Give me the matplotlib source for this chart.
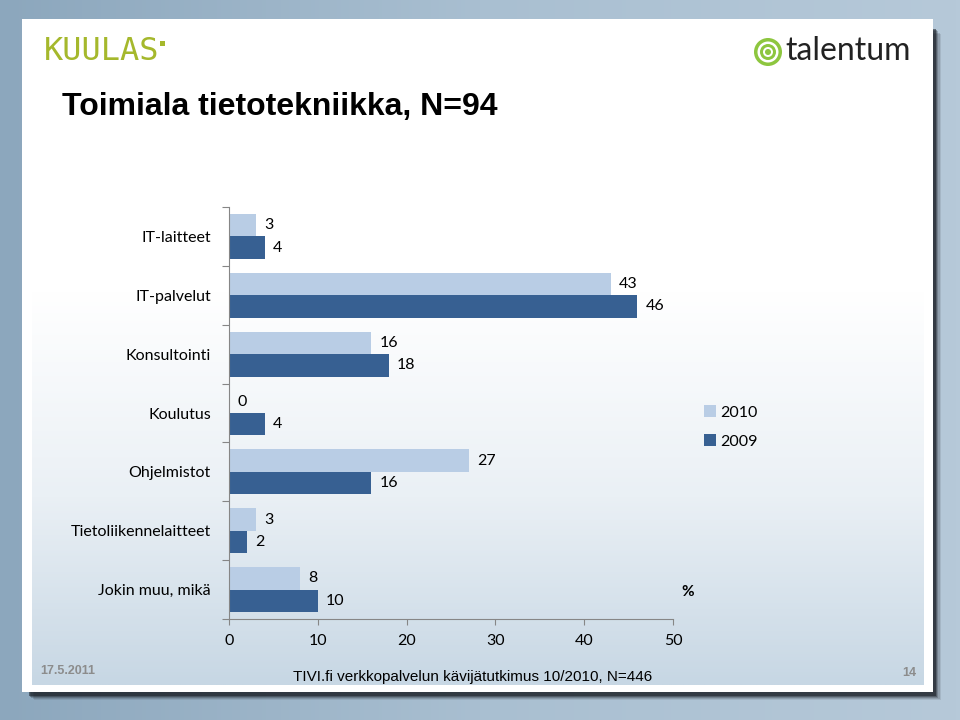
import numpy as np
import matplotlib.pyplot as plt
from matplotlib.patches import Rectangle, Circle
from matplotlib.colors import LinearSegmentedColormap

# data
categories = ['IT-laitteet', 'IT-palvelut', 'Konsultointi', 'Koulutus',
              'Ohjelmistot', 'Tietoliikennelaitteet', 'Jokin muu, mikä']
vals_2010 = [3, 43, 16, 0, 27, 3, 8]
vals_2009 = [4, 46, 18, 4, 16, 2, 10]
series_names = ['2010', '2009']
x_ticks = [0, 10, 20, 30, 40, 50]

c_2010 = '#b9cde5'
c_2009 = '#376092'
chart_font = ['Lato', 'DejaVu Sans']
narrow_font = ['Liberation Sans Narrow', 'Liberation Sans', 'DejaVu Sans']

fig = plt.figure(figsize=(9.6, 7.2), dpi=100)

# ---- slide background (pixel coords) ----
bg = fig.add_axes([0, 0, 1, 1])
bg.set_xlim(0, 960)
bg.set_ylim(720, 0)
bg.axis('off')

outer = LinearSegmentedColormap.from_list('outer', ['#8ca7bd', '#a9bfd1', '#b6c9d9'])
grad_h = np.tile(np.linspace(0, 1, 256), (16, 1))
bg.imshow(grad_h, cmap=outer, extent=(0, 960, 720, 0), aspect='auto', zorder=0)

# shadow of the slide
for k, a in enumerate([0.10, 0.15, 0.22, 0.35, 0.55]):
    off = 8 - k * 1.3
    bg.add_patch(Rectangle((26 + off, 26 + off), 907, 668 - off * 0.3,
                           facecolor='#1a1f26', alpha=a, lw=0, zorder=1))

bg.add_patch(Rectangle((22, 19), 911, 673, facecolor='white', lw=0, zorder=2))

inner = LinearSegmentedColormap.from_list('inner', ['#ffffff', '#ffffff', '#eaf0f5', '#c7d7e4'])
grad_v = np.tile(np.linspace(0, 1, 256)[:, None] ** 1.2, (1, 16))
bg.imshow(grad_v, cmap=inner, extent=(32, 924, 685, 29), aspect='auto', zorder=3)
bg.set_xlim(0, 960)
bg.set_ylim(720, 0)

# KUULAS logo
bg.text(44, 52, 'KUULAS', fontsize=23, family='DejaVu Sans Mono', color='#a5b82c',
        va='center', ha='left', zorder=5)
bg.add_patch(Rectangle((160, 41), 5, 5, facecolor='#a5b82c', lw=0, zorder=5))

# talentum logo
for r, col in [(14, '#8dc63f'), (10.5, 'white'), (8, '#8dc63f'), (5, 'white'), (3, '#8dc63f')]:
    bg.add_patch(Circle((768, 52), r, facecolor=col, lw=0, zorder=5))
bg.text(785, 51, 'talentum', fontsize=23, family=['Lato', 'DejaVu Sans'], color='#222222',
        va='center', ha='left', zorder=5)

# title
bg.text(62, 107, 'Toimiala tietotekniikka, N=94', fontsize=23, fontweight='bold',
        family=narrow_font, color='black', va='center', ha='left', zorder=5)

# footer
bg.text(40, 671, '17.5.2011', fontsize=9, fontweight='bold', family=narrow_font,
        color='#8c8c8c', va='center', ha='left', zorder=5)
bg.text(293, 677, 'TIVI.fi verkkopalvelun kävijätutkimus 10/2010, N=446', fontsize=11,
        family=narrow_font, color='black', va='center', ha='left', zorder=5)
bg.text(916, 673, '14', fontsize=9, fontweight='bold', family=narrow_font,
        color='#8c8c8c', va='center', ha='right', zorder=5)

# ---- chart ----
ax = fig.add_axes([229 / 960, 101 / 720, 444 / 960, 412 / 720])
ax.patch.set_alpha(0)

y = np.arange(len(categories))
h = 0.38
b1 = ax.barh(y - h / 2, vals_2010, height=h, color=c_2010, label=series_names[0])
b2 = ax.barh(y + h / 2, vals_2009, height=h, color=c_2009, label=series_names[1])

for bars, vals in [(b1, vals_2010), (b2, vals_2009)]:
    for rect, v in zip(bars, vals):
        ax.annotate(str(v), (v, rect.get_y() + rect.get_height() / 2),
                    xytext=(6, 0), textcoords='offset points', ha='left', va='center',
                    fontsize=11.5, family=chart_font, color='black')

ax.set_xlim(0, 50)
ax.set_ylim(len(categories) - 0.5, -0.5)
ax.set_xticks(x_ticks)
ax.set_xticklabels([str(t) for t in x_ticks], fontsize=11.5, family=chart_font)
ax.set_yticks(np.arange(len(categories) + 1) - 0.5)
ax.set_yticklabels([])
ax.set_yticks(y, minor=True)
ax.set_yticklabels(categories, minor=True, fontsize=11.5, family=chart_font)
ax.tick_params(axis='y', which='minor', length=0, pad=13)
ax.tick_params(axis='y', which='major', length=5, color='#868686')
ax.tick_params(axis='x', length=4, color='#868686', pad=7)

for s in ['top', 'right']:
    ax.spines[s].set_visible(False)
for s in ['left', 'bottom']:
    ax.spines[s].set_color('#868686')

ax.text(688, 592, '%', transform=bg.transData, fontsize=11, fontweight='bold',
        family=chart_font, ha='center', va='center')

fig.legend(handles=[b1, b2], loc='center left', bbox_to_anchor=(690 / 960, (720 - 427) / 720),
           frameon=False, prop={'family': chart_font, 'size': 11.5},
           handlelength=0.75, handleheight=0.75, handletextpad=0.25, labelspacing=0.9)

fig.savefig('out.png', dpi=100)
